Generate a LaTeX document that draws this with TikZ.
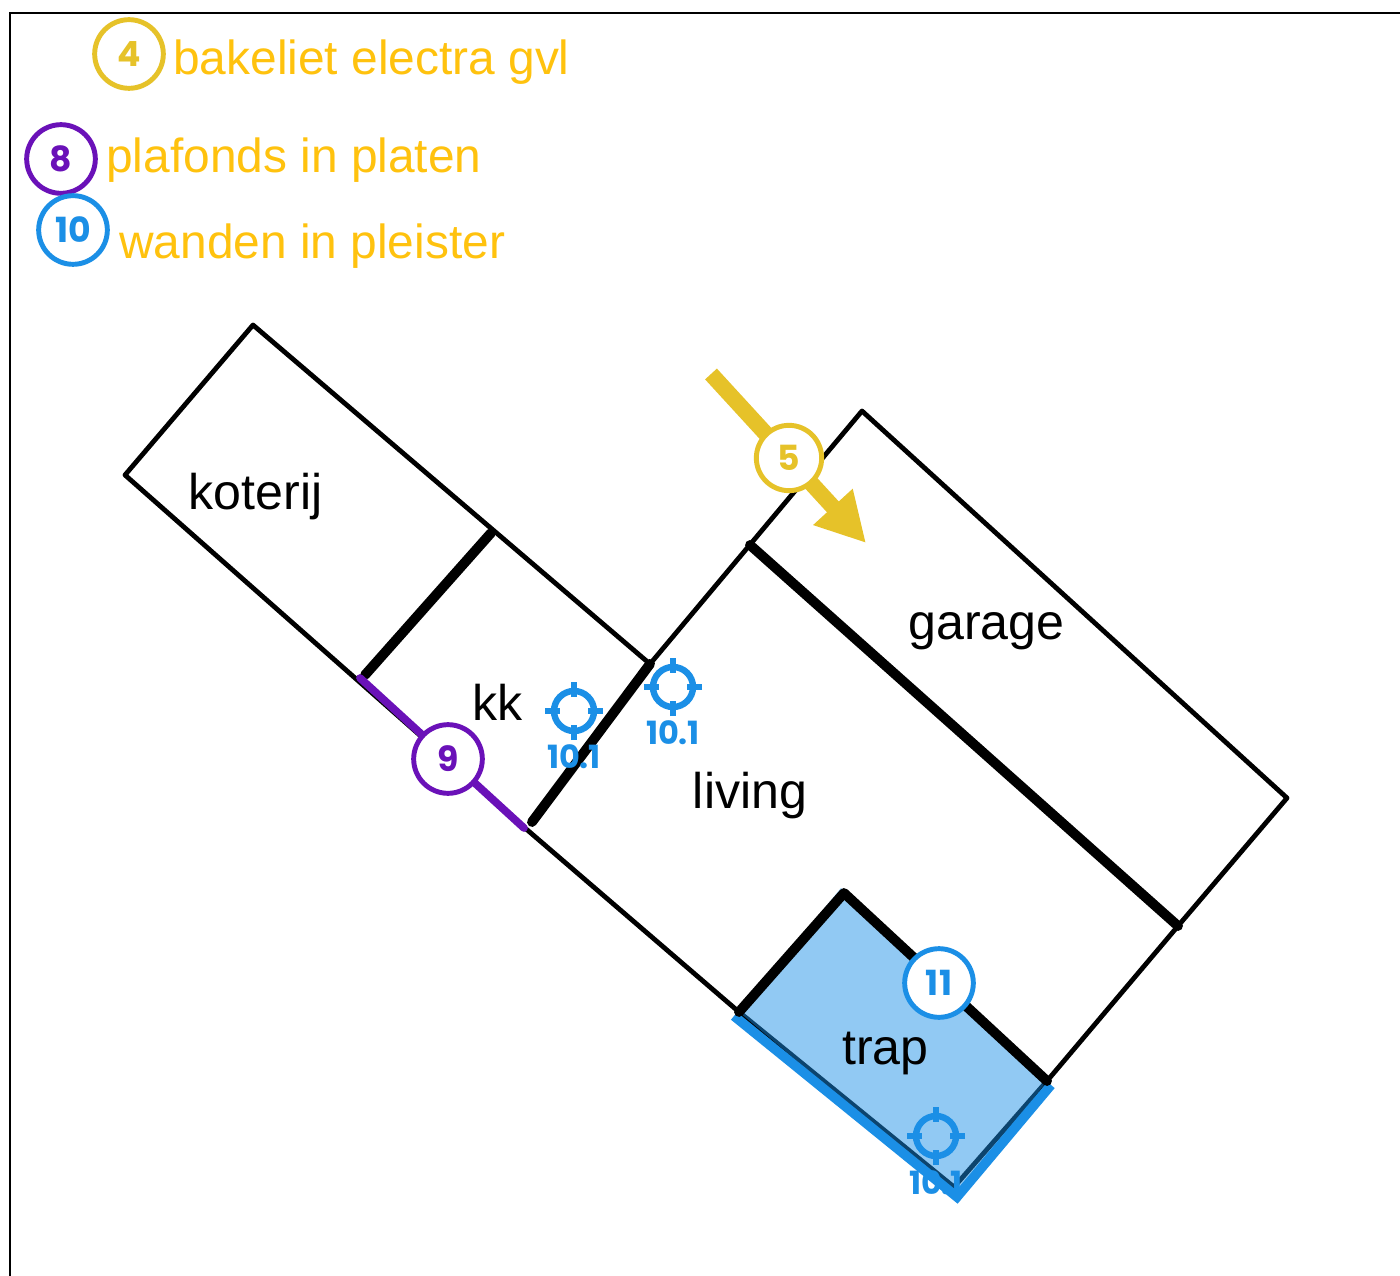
\documentclass[tikz,border=0pt]{standalone}
\usepackage{fontspec}
\setmainfont{Liberation Sans}
\newfontfamily\numfont{Poppins}
\usetikzlibrary{arrows.meta}
\definecolor{cyellow}{HTML}{E6C229}
\definecolor{ctext}{HTML}{FFC20E}
\definecolor{cpurple}{HTML}{6A11B8}
\definecolor{cblue}{HTML}{1B8FE6}
\tikzset{
  x=0.75pt,y=-0.75pt,
  thinwall/.style={draw=black,line width=3.6pt,line join=round,line cap=round},
  thickwall/.style={draw=black,line width=7.4pt,line join=round,line cap=round},
  roomlabel/.style={font=\fontsize{37.6}{40}\selectfont,text=black,anchor=base,inner sep=0pt},
  legendtext/.style={font=\fontsize{35.9}{38}\selectfont,text=ctext,anchor=base west,inner sep=0pt},
  badge/.style={circle,draw=#1,fill=white,text=#1,line width=3.7pt,minimum size=51.5pt,inner sep=0pt,
    font=\numfont\bfseries\fontsize{26}{28}\selectfont},
  ticklabel/.style={font=\numfont\bfseries\fontsize{24}{26}\selectfont,text=cblue,inner sep=0pt,anchor=base},
  ringmark/.style={circle,draw=cblue,line width=4.8pt,minimum size=30pt,inner sep=0pt},
  tickmark/.style={draw=cblue,line width=4.8pt},
  pics/target/.style={code={
    \node[ringmark] (-ring) at (0,0) {};
    \draw[tickmark] (-29,0) -- (-14,0);
    \draw[tickmark] (29,0) -- (14,0);
    \draw[tickmark] (0,-29) -- (0,-14);
    \draw[tickmark] (0,29) -- (0,14);
  }}
}
\begin{document}
\begin{tikzpicture}
\useasboundingbox (0,0) rectangle (1400,1276);
\fill[white] (0,0) rectangle (1400,1276);
% frame
\coordinate (fa) at (10,1276);
\coordinate (fb) at (10,13);
\coordinate (fc) at (1400,13);
\draw[black,line width=2.2pt] (fa) -- (fb) -- (fc);
% corners
\coordinate (k1) at (253,325);
\coordinate (k2) at (125,475);
\coordinate (k3) at (358,677);
\coordinate (k4) at (491,533);
\coordinate (k5) at (650,664);
\coordinate (k6) at (525,828);
\coordinate (k7) at (532,822);
\coordinate (t1) at (739,1012);
\coordinate (t2) at (844,893);
\coordinate (t3) at (1047,1081);
\coordinate (t4) at (954,1187);
\coordinate (g1) at (862,411);
\coordinate (g2) at (1287,798);
\coordinate (g3) at (1178,926);
\coordinate (g4) at (750,545);
\coordinate (k3b) at (365,675);
% thin walls
\draw[thinwall] (k5) -- (k1) -- (k2) -- (k6) -- (t1) -- (t4) -- (t3);
\draw[thinwall] (k5) -- (g1) -- (g2) -- (g3) -- (t3);
% trap fill
\fill[cblue,opacity=.48] (t1) -- (841,888) -- (t3) -- (957,1196) -- cycle;
% blue edge
\coordinate (b1) at (734,1016);
\coordinate (b2) at (957,1197);
\coordinate (b3) at (1051,1085);
\draw[cblue,line width=7.2pt,line join=miter] (b1) -- (b2) -- (b3);
% thick walls
\draw[thickwall] (k4) -- (k3b);
\draw[thickwall] (k5) -- (k7);
\draw[thickwall] (g4) -- (g3);
\draw[thickwall] (t1) -- (t2) -- (t3);
% purple wall
\coordinate (p1) at (360,678);
\coordinate (p2) at (524,828);
\draw[cpurple,line width=5.8pt,line cap=round] (p1) -- (p2);
% yellow arrow
\coordinate (a1) at (711,374);
\coordinate (a2) at (866,543);
\draw[cyellow,line width=12pt,-{Triangle[length=36.75pt,width=37.5pt]}] (a1) -- (a2);
% room labels
\node[roomlabel] (koterij) at (255.5,510) {koterij};
\node[roomlabel] (kk) at (497.5,720) {kk};
\node[roomlabel] (living) at (750,808) {living};
\node[roomlabel] (garage) at (986.5,639) {garage};
\node[roomlabel] (trap) at (885.5,1064) {trap};
% badges
\node[badge=cyellow] (b4) at (129,54) {4};
\node[badge=cpurple] (b8) at (61,159) {8};
\node[badge=cblue] (b10) at (73,230) {10};
\node[badge=cyellow,minimum size=49pt] (b5) at (789,458) {5};
\node[badge=cpurple] (b9) at (448,759) {9};
\node[badge=cblue] (b11) at (939,983) {11};
% legend
\node[legendtext] (l4) at (173,75) {bakeliet electra gvl};
\node[legendtext] (l8) at (106,173) {plafonds in platen};
\node[legendtext] (l10) at (119,259) {wanden in pleister};
% targets
\pic (ta) at (574,711) {target};
\pic (tb) at (673,687) {target};
\pic (tc) at (936,1136) {target};
\node[ticklabel] (la) at (574,768) {10.1};
\node[ticklabel] (lb) at (673,744) {10.1};
\node[ticklabel] (lc) at (936,1194) {10.1};
\end{tikzpicture}
\end{document}
